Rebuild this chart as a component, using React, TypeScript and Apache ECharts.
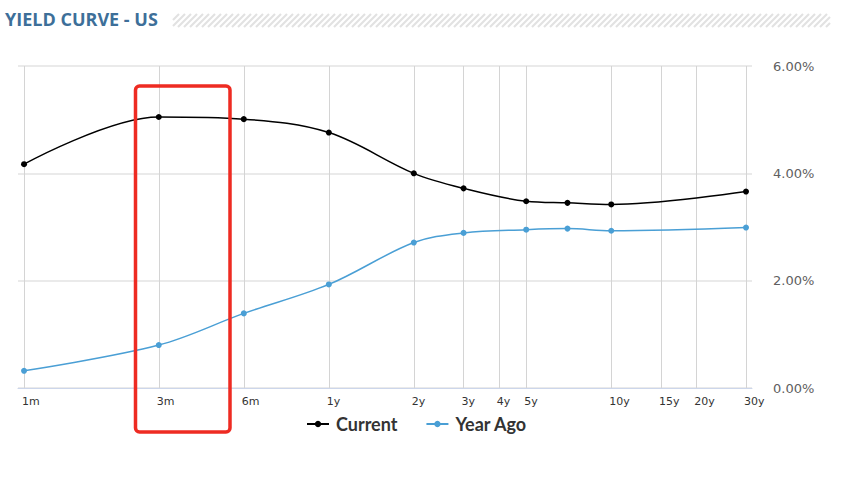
import React, { useEffect, useRef } from "react";
import * as echarts from "echarts";

// Tenors in months (x values, drawn on a log axis)
const tenorMonths = [1, 3, 6, 12, 24, 36, 60, 84, 120, 360];
const currentYields = [4.17, 5.05, 5.01, 4.76, 4.0, 3.72, 3.48, 3.45, 3.42, 3.66];
const yearAgoYields = [0.32, 0.8, 1.39, 1.93, 2.71, 2.89, 2.95, 2.97, 2.93, 2.99];

// X-axis tick positions (months) and their labels
const tickMonths = [1, 3, 6, 12, 24, 36, 48, 60, 120, 180, 240, 360];
const tickLabels = ["1m", "3m", "6m", "1y", "2y", "3y", "4y", "5y", "10y", "15y", "20y", "30y"];

// Y axis
const yMin = 0;
const yMax = 6;
const yInterval = 2;

const seriesNames = ["Current", "Year Ago"];
const titleText = "YIELD CURVE - US";

function stripeLines() {
  const els: any[] = [];
  const x0 = 173;
  const x1 = 830;
  const yTop = 14;
  const yBot = 27;
  const h = yBot - yTop;
  for (let s = x0 - h; s < x1; s += 6) {
    const tStart = Math.max(0, x0 - s);
    const tEnd = Math.min(h, x1 - s);
    if (tEnd <= tStart) continue;
    els.push({
      type: "line",
      silent: true,
      shape: { x1: s + tStart, y1: yBot - tStart, x2: s + tEnd, y2: yBot - tEnd },
      style: { stroke: "#e2e2e2", lineWidth: 2.2 },
    });
  }
  return els;
}

export default function App() {
  const ref = useRef<HTMLDivElement>(null);
  useEffect(() => {
    if (!ref.current) return;
    const chart = echarts.init(ref.current, null, { renderer: "svg" });
    const labelFor = (v: number) => {
      for (let i = 0; i < tickMonths.length; i++) {
        if (Math.abs(tickMonths[i] - v) < tickMonths[i] * 0.02) return tickLabels[i];
      }
      return "";
    };
    const option: any = {
      animation: false,
      backgroundColor: "#ffffff",
      grid: { left: 18, right: 97, top: 66, bottom: 89, containLabel: false },
      legend: {
        left: 306,
        top: 415,
        padding: 0,
        itemWidth: 22,
        itemHeight: 8,
        itemGap: 28,
        textStyle: {
          fontFamily: "Lato",
          fontWeight: "bold",
          fontSize: 18,
          color: "#333333",
          padding: [0, 0, 0, 2],
        },
        data: seriesNames,
      },
      xAxis: {
        type: "log",
        logBase: 10,
        min: 0.952,
        max: 378.1,
        axisLine: { show: true, lineStyle: { color: "#ccd6eb", width: 1 } },
        axisTick: { show: false, customValues: tickMonths },
        axisLabel: {
          customValues: tickMonths,
          formatter: (v: number) => labelFor(v),
          align: "left",
          margin: 8,
          color: "#333333",
          fontFamily: "DejaVu Sans",
          fontSize: 11,
          padding: [0, 0, 0, -2],
        },
        splitLine: { show: true, lineStyle: { color: "#d4d4d4", width: 1 } },
      },
      yAxis: {
        type: "value",
        position: "right",
        min: yMin,
        max: yMax,
        interval: yInterval,
        axisLine: { show: false },
        axisTick: { show: false },
        axisLabel: {
          formatter: (v: number) => v.toFixed(2) + "%",
          margin: 21,
          color: "#606060",
          fontFamily: "DejaVu Sans",
          fontSize: 13,
        },
        splitLine: { show: true, lineStyle: { color: "#e3e3e3", width: 1.5 } },
      },
      series: [
        {
          name: seriesNames[0],
          type: "line",
          smooth: 0.35,
          data: tenorMonths.map((m, i) => [m, currentYields[i]]),
          symbol: "circle",
          symbolSize: 6,
          lineStyle: { color: "#000000", width: 1.5 },
          itemStyle: { color: "#000000" },
          z: 3,
        },
        {
          name: seriesNames[1],
          type: "line",
          smooth: 0.35,
          data: tenorMonths.map((m, i) => [m, yearAgoYields[i]]),
          symbol: "circle",
          symbolSize: 6,
          lineStyle: { color: "#4a9fd5", width: 1.5 },
          itemStyle: { color: "#4a9fd5" },
          z: 2,
        },
      ],
      graphic: [
        {
          type: "text",
          left: 5,
          top: 10,
          style: {
            text: titleText,
            fill: "#3d6f99",
            fontFamily: "Open Sans",
            fontWeight: "bold",
            fontSize: 18,
          },
        },
        ...stripeLines(),
        {
          type: "rect",
          silent: true,
          z: 100,
          shape: { x: 135.5, y: 86, width: 94.5, height: 346, r: 4 },
          style: { fill: "none", stroke: "#ee2b22", lineWidth: 3.5 },
        },
      ],
    };
    chart.setOption(option);
    return () => chart.dispose();
  }, []);
  return (
    <div
      ref={ref}
      style={{ position: "fixed", left: 0, top: 0, width: 849, height: 477, background: "#fff" }}
    />
  );
}
